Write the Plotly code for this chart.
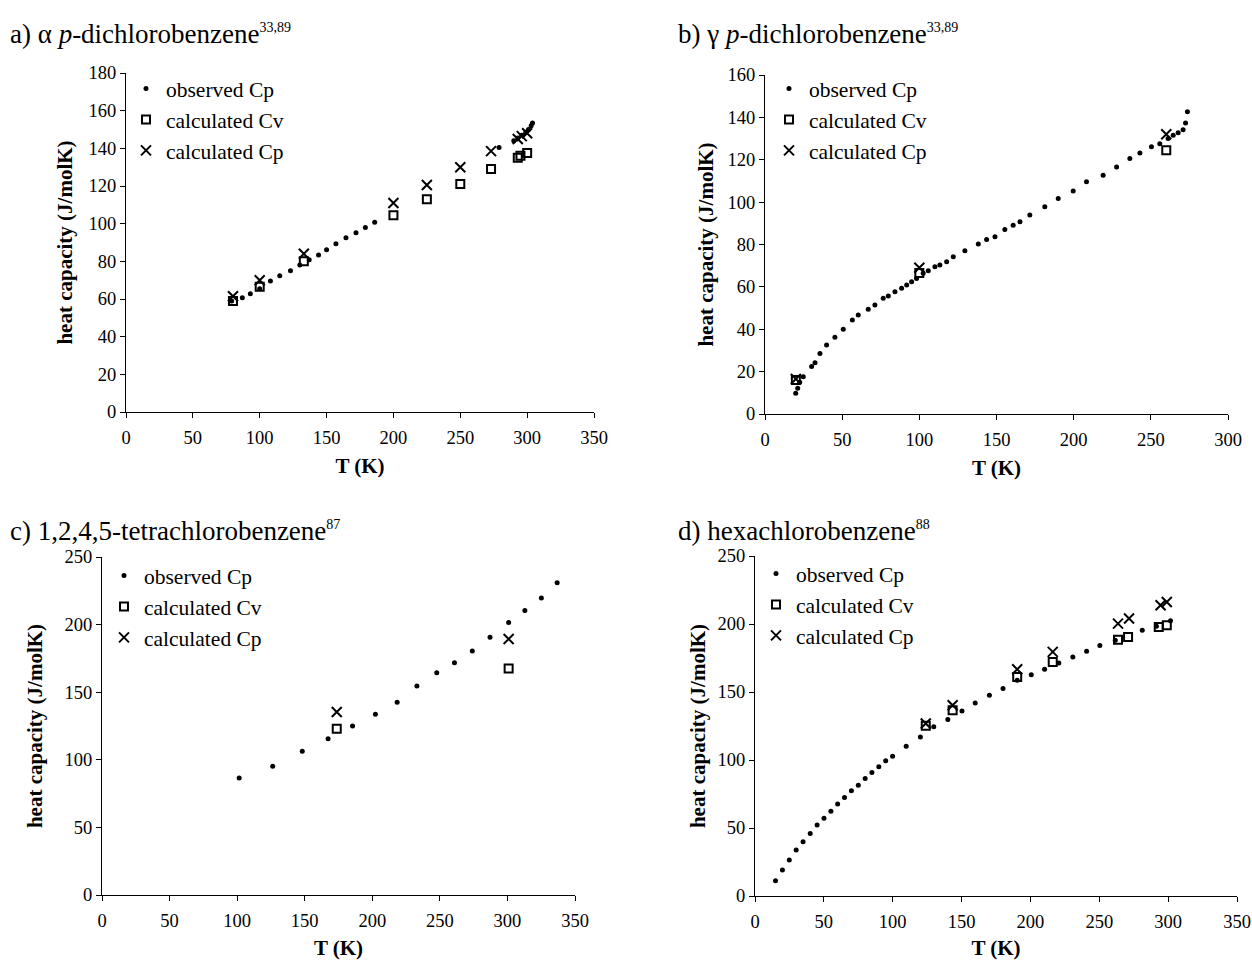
import plotly.graph_objects as go

# ---------------- data ----------------
# a) alpha p-dichlorobenzene
a_obs_T = [79, 87, 93, 100, 108, 115, 123, 130, 137, 144, 150, 157, 164.5, 172, 179, 186,
           279, 290, 293, 296, 299, 301, 303, 304]
a_obs_Cp = [58.9, 60.7, 62.8, 65.5, 69.6, 72.3, 75, 78, 80.8, 83.4, 86.1, 89.3, 92.5, 95.2, 97.9, 100.7,
            140.5, 144, 145.5, 147, 148.5, 150, 152, 153.5]
a_cv_T = [80, 100, 133, 200, 225, 250, 273, 293, 295, 300]
a_cv = [59, 66.5, 80, 104.5, 113, 121, 129, 135, 136, 137.5]
a_cp_T = [80, 100, 133, 200, 225, 250, 273, 293, 296, 300]
a_cp = [61.5, 70, 84, 111, 120.5, 130, 138.5, 145, 146.5, 148]

# b) gamma p-dichlorobenzene
b_obs_T = [19.9, 21.2, 22.5, 24.8, 30.2, 32.4, 35.6, 39.9, 45.3, 50.7, 56.6, 60.4, 66.9, 71.2, 76.6,
           79.9, 84.2, 88.5, 91.8, 95.0, 98.2, 102.5, 105.8, 110.1, 113.3, 117.7, 122.0, 129.5,
           138.2, 143.6, 149.0, 155.4, 160.8, 165.2, 171.6, 181.3, 190.0, 199.7, 208.3, 219.1,
           227.8, 236.4, 242.9, 250.4, 255.8, 261.2, 264.5, 267.7, 270.9, 272.5, 273.7]
b_obs_Cp = [9.8, 12.1, 15.0, 17.6, 22.4, 24.2, 28.6, 32.6, 36.2, 40.0, 44.4, 46.7, 49.4, 51.4, 54.6,
            55.7, 57.7, 59.3, 60.9, 62.4, 64.0, 66.4, 67.6, 69.5, 70.3, 71.9, 74.2, 77.0,
            80.2, 82.4, 83.6, 87.1, 89.1, 90.7, 93.9, 97.8, 101.7, 105.2, 109.6, 112.7,
            116.6, 120.6, 123.2, 126.1, 127.6, 130.0, 131.6, 132.7, 134.2, 137.4, 142.6]
b_cv_T = [20, 100, 260]
b_cv = [16, 66.5, 124.5]
b_cp_T = [20, 100, 260]
b_cp = [16.5, 69, 132]

# c) 1,2,4,5-tetrachlorobenzene
c_obs_T = [101.5, 126.3, 148.2, 167.3, 185.4, 202.3, 218.4, 233, 247.7, 260.8, 274, 287.1,
           300.9, 312.9, 325.1, 336.8]
c_obs_Cp = [86.6, 95.3, 106.4, 115.6, 125, 133.7, 142.6, 154.5, 164.4, 171.8, 180.4, 190.6,
            201.5, 210.4, 219.6, 230.9]
c_cv_T = [173.7, 300.9]
c_cv = [123, 167.6]
c_cp_T = [173.7, 300.9]
c_cp = [135.4, 189.4]

# d) hexachlorobenzene
d_obs_T = [14.9, 19.9, 24.9, 29.9, 34.9, 40.1, 45.1, 50.1, 55.1, 60.0, 65.0, 70.0, 75.0, 80.0,
           84.9, 89.9, 94.9, 99.9, 109.8, 120.1, 129.8, 140.0, 150.3, 159.9, 170.2, 180.1,
           190.4, 200.6, 210.3, 220.6, 230.8, 240.8, 250.4, 261.6, 281.2, 291.5, 301.7]
d_obs_Cp = [11.3, 19.1, 26.4, 33.8, 39.9, 46.0, 52.2, 57.1, 62.4, 67.6, 72.5, 77.4, 81.5, 86.4,
            90.8, 95.0, 99.4, 102.8, 110.2, 117.0, 124.4, 129.8, 136.1, 142.0, 147.6, 152.5,
            158.7, 162.6, 166.7, 171.4, 175.8, 180.0, 184.1, 188.1, 195.4, 198.3, 202.3]
d_cv_T = [124, 143.5, 190.4, 216.2, 263.6, 270.9, 293.2, 299]
d_cv = [125.1, 136.6, 161.1, 172.1, 188.5, 190.5, 197.8, 199]
d_cp_T = [124, 143.5, 190.4, 216.2, 263.6, 271.6, 294.5, 299]
d_cp = [126.8, 140.3, 166.7, 179.5, 200.3, 204, 213.8, 216.2]

titles = [
    "a) α <i>p</i>-dichlorobenzene<sup><span style='font-size:14px'>33,89</span></sup>",
    "b) γ <i>p</i>-dichlorobenzene<sup><span style='font-size:14px'>33,89</span></sup>",
    "c) 1,2,4,5-tetrachlorobenzene<sup><span style='font-size:14px'>87</span></sup>",
    "d) hexachlorobenzene<sup><span style='font-size:14px'>88</span></sup>",
]
series_names = ["observed Cp", "calculated Cv", "calculated Cp"]
x_label = "T (K)"
y_label = "heat capacity (J/molK)"

# ---------------- layout helpers ----------------
W, H = 1252, 960
SERIF = "Liberation Serif, Times New Roman, serif"


def px_x(p):
    return p / W


def px_y(p):
    return 1 - p / H


panels = [
    dict(data=(a_obs_T, a_obs_Cp, a_cv_T, a_cv, a_cp_T, a_cp), xr=350, yr=180, dy=20,
         xd=(126, 594), yd=(412, 73), title_xy=(8, 34), leg_xy=(126, 68), standoff=10),
    dict(data=(b_obs_T, b_obs_Cp, b_cv_T, b_cv, b_cp_T, b_cp), xr=300, yr=160, dy=20,
         xd=(765, 1228), yd=(414, 75), title_xy=(676, 34), leg_xy=(769, 68), standoff=8),
    dict(data=(c_obs_T, c_obs_Cp, c_cv_T, c_cv, c_cp_T, c_cp), xr=350, yr=250, dy=50,
         xd=(102, 575), yd=(895, 557), title_xy=(8, 531), leg_xy=(104, 555), standoff=16),
    dict(data=(d_obs_T, d_obs_Cp, d_cv_T, d_cv, d_cp_T, d_cp), xr=350, yr=250, dy=50,
         xd=(755, 1237), yd=(896, 556), title_xy=(676, 531), leg_xy=(756, 553), standoff=6),
]

fig = go.Figure()
layout = dict(
    width=W, height=H, template="none",
    margin=dict(l=0, r=0, t=0, b=0),
    paper_bgcolor="white", plot_bgcolor="white",
    font=dict(family=SERIF, color="black", size=18),
    annotations=[],
)

for i, p in enumerate(panels):
    n = i + 1
    xa = "x" if n == 1 else f"x{n}"
    ya = "y" if n == 1 else f"y{n}"
    leg = "legend" if n == 1 else f"legend{n}"
    oT, oC, vT, vC, pT, pC = p["data"]
    fig.add_trace(go.Scatter(x=oT, y=oC, mode="markers", name=series_names[0],
                             xaxis=xa, yaxis=ya, legend=leg, cliponaxis=False,
                             marker=dict(symbol="circle", size=5, color="black")))
    fig.add_trace(go.Scatter(x=vT, y=vC, mode="markers", name=series_names[1],
                             xaxis=xa, yaxis=ya, legend=leg, cliponaxis=False,
                             marker=dict(symbol="square-open", size=8, color="black",
                                         line=dict(width=2, color="black"))))
    fig.add_trace(go.Scatter(x=pT, y=pC, mode="markers", name=series_names[2],
                             xaxis=xa, yaxis=ya, legend=leg, cliponaxis=False,
                             marker=dict(symbol="x-thin-open", size=10, color="black",
                                         line=dict(width=2, color="black"))))
    axis_common = dict(showgrid=False, zeroline=False, showline=True, linecolor="black",
                       linewidth=1, ticks="outside", ticklen=5, tickcolor="black",
                       tickfont=dict(family=SERIF, size=18.5, color="black"), automargin=False)
    layout["xaxis" if n == 1 else f"xaxis{n}"] = dict(
        axis_common, domain=[px_x(p["xd"][0]), px_x(p["xd"][1])], range=[0, p["xr"]],
        dtick=50, tick0=0, anchor=ya, ticklabelstandoff=4,
        title=dict(text=f"<b>{x_label}</b>", font=dict(family=SERIF, size=21), standoff=11))
    layout["yaxis" if n == 1 else f"yaxis{n}"] = dict(
        axis_common, domain=[px_y(p["yd"][0]), px_y(p["yd"][1])], range=[0, p["yr"]],
        dtick=p["dy"], tick0=0, anchor=xa,
        title=dict(text=f"<b>{y_label}</b>", font=dict(family=SERIF, size=21),
                   standoff=p["standoff"]))
    layout[leg] = dict(x=px_x(p["leg_xy"][0]), y=px_y(p["leg_xy"][1]), xanchor="left",
                       yanchor="top", bgcolor="rgba(0,0,0,0)", borderwidth=0,
                       font=dict(family=SERIF, size=21.5, color="black"), itemwidth=30)
    layout["annotations"].append(dict(
        text=titles[i], x=px_x(p["title_xy"][0]), y=px_y(p["title_xy"][1]),
        xref="paper", yref="paper", xanchor="left", yanchor="middle", showarrow=False,
        font=dict(family=SERIF, size=27, color="black")))

fig.update_layout(**layout)
fig.write_html("out.html", config={"displayModeBar": False},
               post_script="document.body.style.margin='0';document.body.style.padding='0';")
